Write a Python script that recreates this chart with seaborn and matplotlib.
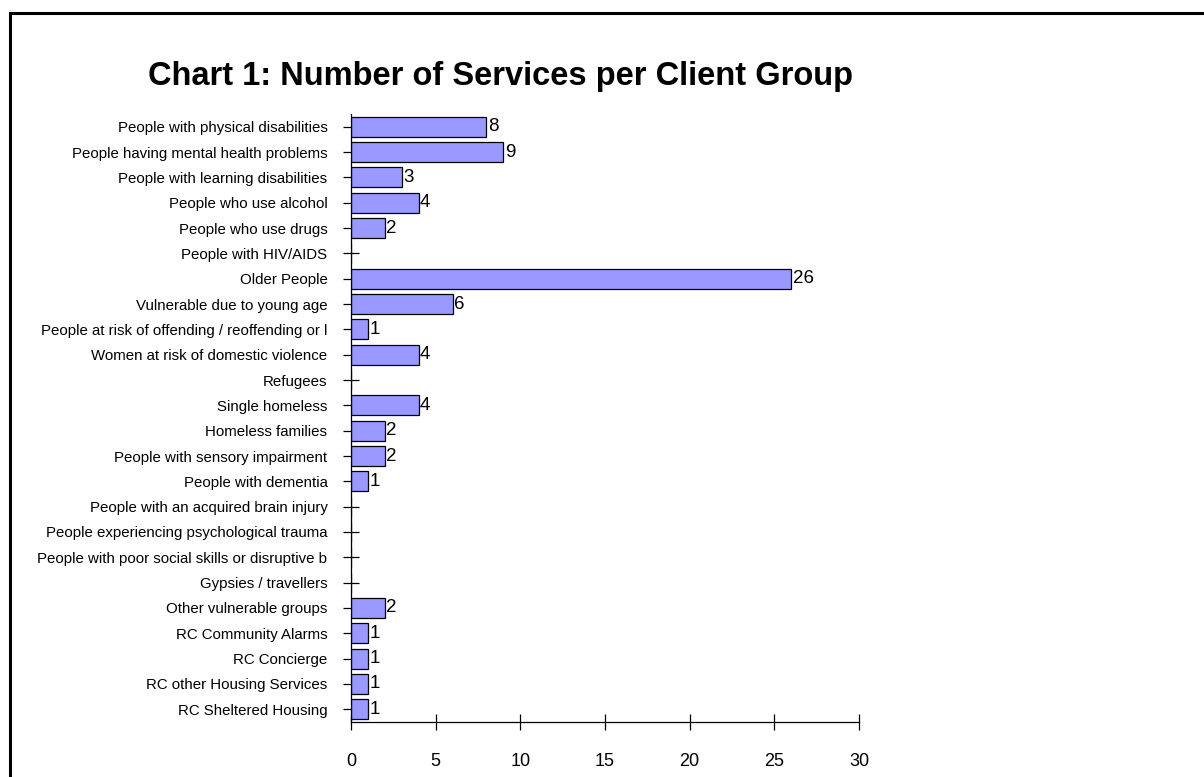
# chart 1: services per client group

import pandas as pd
import matplotlib
matplotlib.use("Agg")
import matplotlib.pyplot as plt
from matplotlib.patches import Rectangle
import seaborn as sns

groups = [
    "People with physical disabilities",
    "People having mental health problems",
    "People with learning disabilities",
    "People who use alcohol",
    "People who use drugs",
    "People with HIV/AIDS",
    "Older People",
    "Vulnerable due to young age",
    "People at risk of offending / reoffending or l",
    "Women at risk of domestic violence",
    "Refugees",
    "Single homeless",
    "Homeless families",
    "People with sensory impairment",
    "People with dementia",
    "People with an acquired brain injury",
    "People experiencing psychological trauma",
    "People with poor social skills or disruptive b",
    "Gypsies / travellers",
    "Other vulnerable groups",
    "RC Community Alarms",
    "RC Concierge",
    "RC other Housing Services",
    "RC Sheltered Housing",
]
services = [8, 9, 3, 4, 2, 0, 26, 6, 1, 4, 0, 4, 2, 2, 1, 0, 0, 0, 0, 2, 1, 1, 1, 1]
x_ticks = [0, 5, 10, 15, 20, 25, 30]

df = pd.DataFrame({"group": groups, "services": services})

sns.set_style("white")
plt.rcParams['font.family'] = ['Liberation Sans', 'DejaVu Sans']
plt.rcParams['text.color'] = 'black'

fig = plt.figure(figsize=(12.04, 7.77), dpi=100)
ax = fig.add_axes([351 / 1204, 1 - 722 / 777, 508 / 1204, 608 / 777])

sns.barplot(data=df, x="services", y="group", orient="h", color="#9999FF",
            edgecolor="black", linewidth=0.9, saturation=1, width=0.8, ax=ax)

ax.set_xlim(0, 30)
ax.set_ylim(len(groups) - 0.5, -0.5)
ax.set_xticks(x_ticks)
ax.set_xlabel("")
ax.set_ylabel("")

for side in ["top", "right"]:
    ax.spines[side].set_visible(False)
for side in ["left", "bottom"]:
    ax.spines[side].set_color("black")
    ax.spines[side].set_linewidth(0.9)

ax.tick_params(axis="x", bottom=True, direction="inout", length=11, width=0.9,
               pad=17, labelsize=13, colors="black")
ax.tick_params(axis="y", left=True, direction="inout", length=12, width=0.9,
               pad=11, labelsize=10.8, colors="black")

labels = [str(v) if v > 0 else "" for v in services]
ax.bar_label(ax.containers[0], labels=labels, padding=1, fontsize=13.5,
             color="black")

fig.text(148 / 1204, 1 - 77 / 777, "Chart 1: Number of Services per Client Group",
         fontsize=23.5, fontweight="bold", va="center", ha="left", color="black")

frame = Rectangle((10 / 1204, -0.05), 1.1, 1 - 13 / 777 + 0.05,
                  transform=fig.transFigure, fill=False, edgecolor="black",
                  linewidth=2.2, clip_on=False)
fig.patches.append(frame)

fig.savefig("out.png", dpi=100)
